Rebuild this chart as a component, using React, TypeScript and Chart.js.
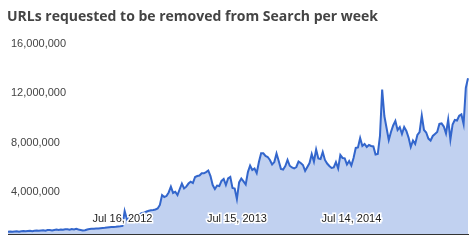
import React, { useEffect, useRef } from 'react';
import { Chart, registerables } from 'chart.js';

Chart.register(...registerables);

const TITLE = 'URLs requested to be removed from Search per week';

// weekly series, first week starting Monday Jul 18, 2011
const START_YEAR = 2011;
const START_MONTH = 6; // July (0-based)
const START_DAY = 18;

const urlsPerWeek: number[] = [
  // Jul 2011 – Jul 2012
  790000, 800000, 780000, 810000, 820000, 790000, 830000, 840000, 820000, 840000,
  860000, 830000, 870000, 880000, 860000, 890000, 910000, 870000, 920000, 920000,
  890000, 930000, 960000, 920000, 960000, 940000, 980000, 980000, 940000, 1000000,
  970000, 1020000, 960000, 920000, 880000, 900000, 960000, 1000000, 1020000, 1030000,
  1040000, 1050000, 1070000, 1090000, 1100000, 1130000, 1150000, 1170000, 1170000, 1180000,
  1200000, 1220000,
  // Jul 16, 2012 onward
  1250000, 2460000, 1810000, 2060000, 2220000, 2060000, 2140000, 2180000, 2220000, 2300000,
  2340000, 2420000, 2480000, 2520000, 2540000, 2580000, 2660000, 2950000, 3750000, 3590000,
  3670000, 3960000, 4430000, 3920000, 4020000, 3750000, 4220000, 4680000, 4280000, 4430000,
  4680000, 4830000, 4720000, 5210000, 5290000, 5330000, 5510000, 5510000, 5610000, 5740000,
  5290000, 4560000, 4240000, 4520000, 4480000, 4890000, 5050000, 4560000, 5090000, 5210000,
  4320000, 4280000, 3430000, 4770000, 5090000, 4850000, 4600000, 5610000, 6140000, 5780000,
  5900000, 5530000, 6420000, 7130000, 7130000, 6910000, 6830000, 6590000, 6220000, 6420000,
  7110000, 6500000, 5870000, 5820000, 6100000, 6590000, 6120000, 5980000, 5900000, 6020000,
  6460000, 6340000, 6180000, 5700000, 6020000, 6340000, 7070000, 6460000, 7430000, 6710000,
  6670000, 7230000, 6590000, 6300000, 6100000, 5940000, 5980000, 6420000, 5900000, 6990000,
  6750000, 6720000, 6220000, 6500000, 6140000, 6750000, 7560000, 7600000, 8360000, 7720000,
  7880000, 7640000, 7800000, 7720000, 7680000, 7030000, 7070000, 8530000, 12290000, 10140000,
  9170000, 8200000, 8850000, 9380000, 9740000, 9010000, 9250000, 8690000, 9250000, 8930000,
  8400000, 7640000, 8160000, 7880000, 8610000, 8850000, 10180000, 9010000, 8810000, 8320000,
  8160000, 8530000, 8690000, 8850000, 9500000, 9540000, 9290000, 8730000, 9860000, 8240000,
  9460000, 9820000, 9780000, 10160000, 10270000, 9500000, 12410000, 13190000,
];

const yTickValues: number[] = [4000000, 8000000, 12000000, 16000000];
const xTickLabels: string[] = ['Jul 16, 2012', 'Jul 15, 2013', 'Jul 14, 2014'];
const Y_MIN = 600000;
const Y_MAX = 17100000;

const MONTHS = ['Jan', 'Feb', 'Mar', 'Apr', 'May', 'Jun', 'Jul', 'Aug', 'Sep', 'Oct', 'Nov', 'Dec'];

function weekLabels(n: number): string[] {
  const out: string[] = [];
  const t0 = Date.UTC(START_YEAR, START_MONTH, START_DAY);
  for (let i = 0; i < n; i++) {
    const d = new Date(t0 + i * 7 * 86400000);
    out.push(`${MONTHS[d.getUTCMonth()]} ${d.getUTCDate()}, ${d.getUTCFullYear()}`);
  }
  return out;
}

export default function App() {
  const ref = useRef<HTMLCanvasElement | null>(null);

  useEffect(() => {
    if (!ref.current) return;
    const labels = weekLabels(urlsPerWeek.length);
    const chart = new Chart(ref.current, {
      type: 'line',
      data: {
        labels,
        datasets: [
          {
            data: urlsPerWeek,
            borderColor: '#3366cc',
            backgroundColor: 'rgba(51,102,204,0.3)',
            borderWidth: 2,
            pointRadius: 0,
            tension: 0,
            fill: 'start',
          },
        ],
      },
      options: {
        responsive: false,
        animation: false,
        events: [],
        layout: { padding: { left: 1, right: 6, top: 30, bottom: 0 } },
        plugins: {
          legend: { display: false },
          title: { display: false },
          tooltip: { enabled: false },
        },
        scales: {
          x: {
            type: 'category',
            grid: { display: false, drawTicks: false },
            border: { display: true, color: '#333', width: 1, z: 1 },
            ticks: {
              autoSkip: false,
              maxRotation: 0,
              minRotation: 0,
              mirror: true,
              padding: 8,
              z: 1,
              color: '#222',
              textStrokeColor: '#ffffff',
              textStrokeWidth: 3,
              font: { family: "'Liberation Sans', Arial, sans-serif", size: 11 },
              callback: function (this: any, value: any) {
                const l = this.getLabelForValue(value);
                return xTickLabels.includes(l) ? l : '';
              },
            },
          },
          y: {
            min: Y_MIN,
            max: Y_MAX,
            grid: { display: false, drawTicks: false },
            border: { display: false },
            afterBuildTicks: (scale: any) => {
              scale.ticks = yTickValues.map((v) => ({ value: v }));
            },
            ticks: {
              mirror: true,
              padding: 3,
              z: 1,
              color: '#444',
              font: { family: "'Liberation Sans', Arial, sans-serif", size: 11 },
              callback: (v: any) => Number(v).toLocaleString('en-US'),
            },
          },
        },
      },
    });
    return () => chart.destroy();
  }, []);

  return (
    <div style={{ position: 'fixed', left: 0, top: 0, width: 476, height: 244, overflow: 'hidden', background: '#fff' }}>
      <div
        style={{
          position: 'absolute',
          left: 7,
          top: 6,
          fontFamily: "'Open Sans', sans-serif",
          fontWeight: 700,
          fontSize: 14,
          lineHeight: '19px',
          color: '#444',
          whiteSpace: 'nowrap',
        }}
      >
        {TITLE}
      </div>
      <canvas ref={ref} width={476} height={250} style={{ display: 'block', width: 476, height: 250 }} />
    </div>
  );
}
